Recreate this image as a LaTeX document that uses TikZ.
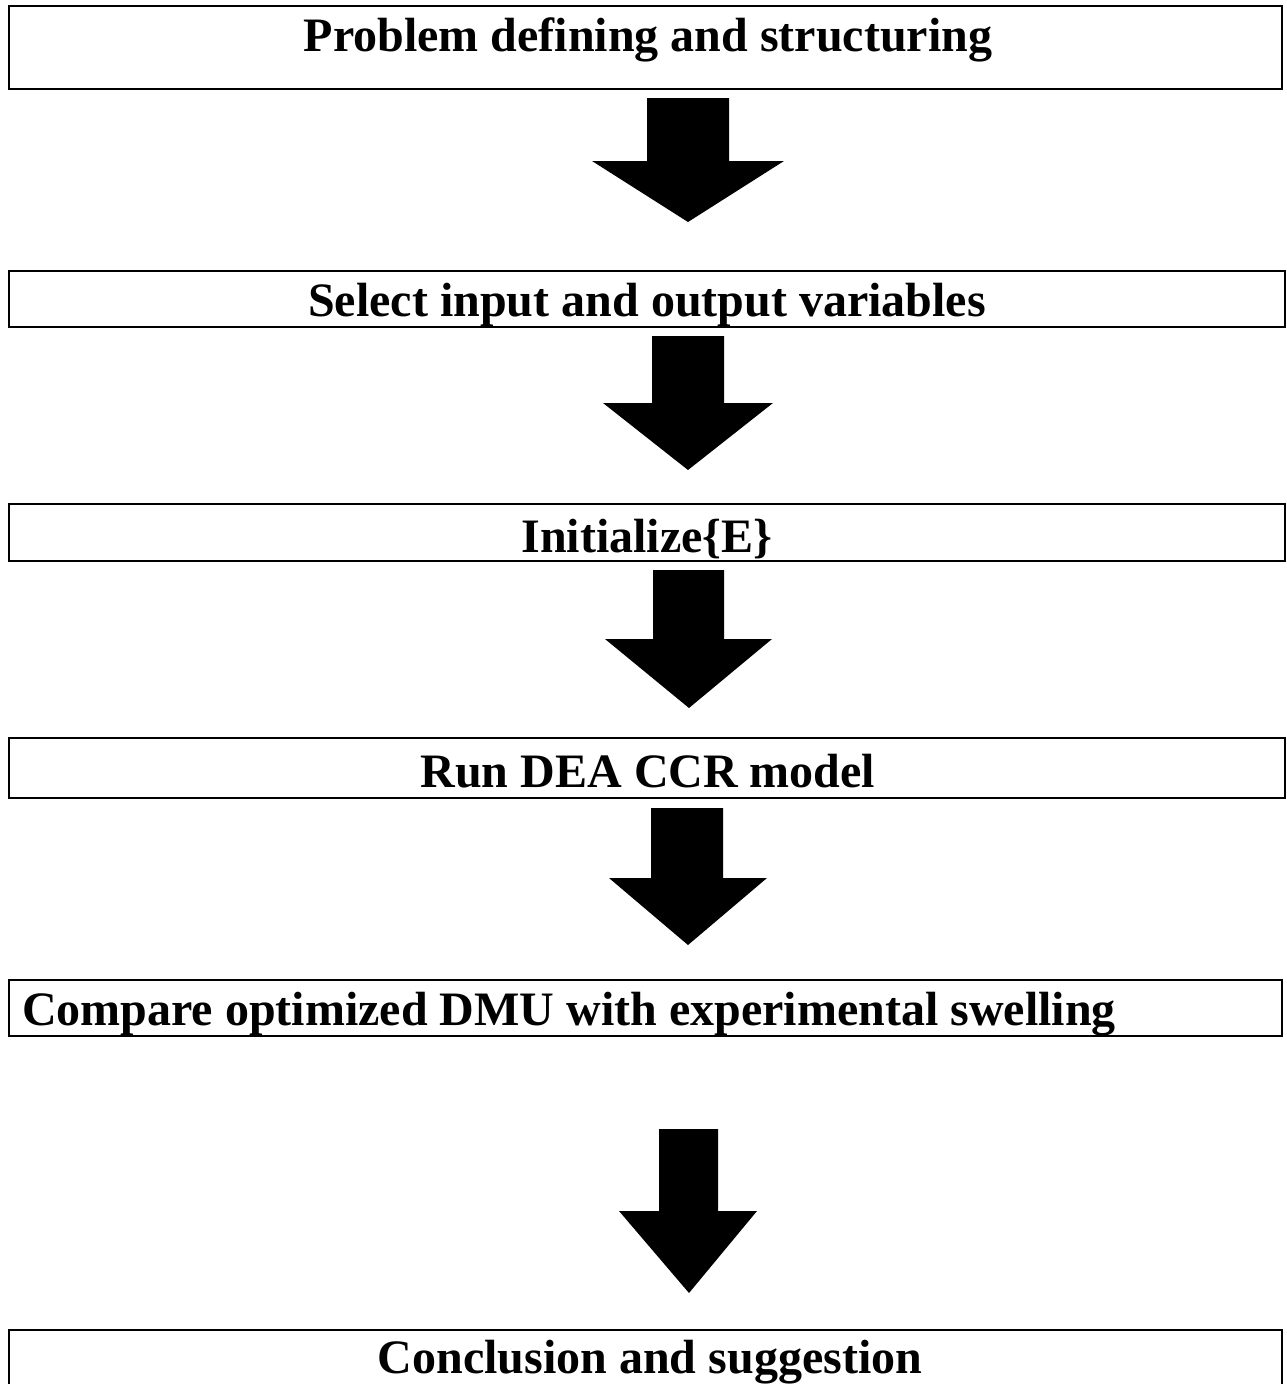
\documentclass[tikz,border=0pt]{standalone}
\usepackage{fontspec}
\setmainfont{Liberation Serif}
\begin{document}
\begin{tikzpicture}[x=1pt,y=-1pt,
  box/.style={draw, line width=1.8pt, inner sep=0pt, outer sep=0pt},
  lbl/.style={font=\fontsize{48}{48}\selectfont\bfseries, anchor=base, inner sep=0pt},
  blk/.style={fill=black}]
\useasboundingbox (0,0) rectangle (1286,1384);
\clip (0,0) rectangle (1286,1384);
% boxes
\node[box, minimum width=1273pt, minimum height=83pt] (b1) at (645.5,47.5) {};
\node[box, minimum width=1276pt, minimum height=56pt] (b2) at (647,299) {};
\node[box, minimum width=1276pt, minimum height=57pt] (b3) at (647,532.5) {};
\node[box, minimum width=1276pt, minimum height=60pt] (b4) at (647,768) {};
\node[box, minimum width=1273pt, minimum height=56pt] (b5) at (645.5,1008) {};
\node[box, minimum width=1273pt, minimum height=80pt] (b6) at (645.5,1370) {};
% texts
\node[lbl] (t1) at (648,51) {Problem defining and structuring};
\node[lbl] (t2) at (647,316) {Select input and output variables};
\node[lbl] (t3) at (647,552) {Initialize\{E\}};
\node[lbl] (t4) at (648,787) {Run DEA CCR model};
\node[lbl, anchor=base west] (t5) at (22,1025) {Compare optimized DMU with experimental swelling};
\node[lbl] (t6) at (650,1373) {Conclusion and suggestion};
% block arrows
\fill[blk] (647,98) -- (729,98) -- (729,161) -- (784,161) -- (688,222) -- (592,161) -- (647,161) -- cycle;
\fill[blk] (652,336) -- (724,336) -- (724,403) -- (773,403) -- (688,470) -- (603,403) -- (652,403) -- cycle;
\fill[blk] (653,570) -- (724,570) -- (724,639) -- (772,639) -- (689,708) -- (605,639) -- (653,639) -- cycle;
\fill[blk] (651,808) -- (723,808) -- (723,878) -- (767,878) -- (688,945) -- (609,878) -- (651,878) -- cycle;
\fill[blk] (659,1129) -- (718,1129) -- (718,1211) -- (757,1211) -- (689,1293) -- (619,1211) -- (659,1211) -- cycle;
\end{tikzpicture}
\end{document}
